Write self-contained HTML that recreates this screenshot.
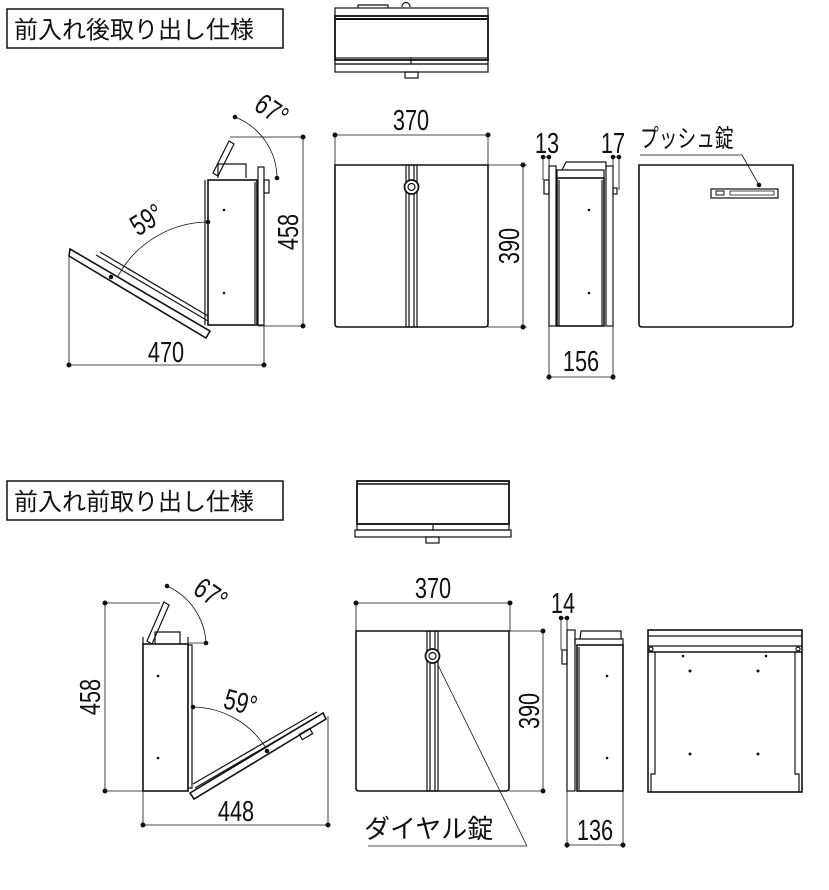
<!DOCTYPE html>
<html><head><meta charset="utf-8"><style>
html,body{margin:0;padding:0;background:#fff;}
svg{display:block;}
text{font-family:"Liberation Sans","Noto Sans CJK JP",sans-serif;fill:#111;}
.t{font-size:24px;}
.d{font-size:29px;}
</style></head><body>
<svg width="829" height="890" viewBox="0 0 829 890" xmlns="http://www.w3.org/2000/svg" stroke="#111" fill="none">
<!-- titles -->
<rect x="7" y="9" width="276" height="39" stroke-width="1.5"/>
<text x="14" y="38" class="t" stroke="none">前入れ後取り出し仕様</text>
<rect x="7" y="481" width="276" height="39" stroke-width="1.5"/>
<text x="14" y="510" class="t" stroke="none">前入れ前取り出し仕様</text>

<!-- top view 1 -->
<g stroke-width="1.2">
<rect x="335" y="8" width="153" height="8"/>
<rect x="335" y="16" width="153" height="44" stroke-width="1.8"/>
<line x1="336" y1="19" x2="487" y2="19" stroke-width="2"/>
<rect x="335" y="58" width="153" height="6"/>
<rect x="335" y="64" width="153" height="8"/>
<line x1="411" y1="58" x2="411" y2="64"/>
<rect x="405" y="72" width="13" height="6"/>
<path d="M358 8v-3h30v3M402 7c0-6 8-6 8 0"/>
</g>
<!-- front view 1 -->
<g stroke-width="1.2">
<path d="M335 165H488V324q0 3-3 3H338q-3 0-3-3Z" stroke-width="1.6"/>
<rect x="406" y="165" width="11" height="162"/>
<line x1="409" y1="165" x2="409" y2="327"/><line x1="414" y1="165" x2="414" y2="327"/>
<circle cx="411.5" cy="187" r="7" fill="#fff" stroke-width="1.8"/><circle cx="411.5" cy="187" r="3.5"/>
</g>
<g stroke-width="0.8">
<line x1="335" y1="135" x2="488" y2="135"/><line x1="335" y1="135" x2="335" y2="165"/><line x1="488" y1="135" x2="488" y2="165"/>
<line x1="488" y1="165" x2="527" y2="165"/><line x1="488" y1="327" x2="527" y2="327"/><line x1="523" y1="165" x2="523" y2="327"/>
</g>
<g fill="#111" stroke="none"><circle cx="335" cy="135" r="2.5"/><circle cx="488" cy="135" r="2.5"/><circle cx="523" cy="165" r="2.5"/><circle cx="523" cy="327" r="2.5"/></g>
<text transform="translate(411,130) scale(0.75,1)" class="d" text-anchor="middle" stroke="none">370</text>
<text transform="translate(519,246) rotate(-90) scale(0.75,1)" class="d" text-anchor="middle" stroke="none">390</text>

<!-- side view 1 right -->
<g stroke-width="1.2">
<rect x="549" y="166" width="7" height="160"/>
<rect x="557" y="178" width="47" height="148" stroke-width="1.6"/>
<rect x="606" y="166" width="7" height="160"/>
<path d="M557 178v-8h47v8M562 170l4-8h40v8"/>
<rect x="544" y="180" width="5" height="14"/><rect x="613" y="188" width="4" height="6"/>
<line x1="559" y1="180" x2="559" y2="326"/><line x1="602" y1="180" x2="602" y2="326"/>
</g>
<g stroke-width="0.8">
<line x1="543" y1="157" x2="549" y2="157"/><line x1="543" y1="157" x2="543" y2="180"/><line x1="549" y1="157" x2="549" y2="380"/>
<line x1="613" y1="157" x2="619" y2="157"/><line x1="613" y1="157" x2="613" y2="380"/><line x1="619" y1="157" x2="619" y2="190"/>
<line x1="549" y1="377" x2="613" y2="377"/>
</g>
<g fill="#111" stroke="none"><circle cx="543" cy="157" r="2.3"/><circle cx="549" cy="157" r="2.3"/><circle cx="613" cy="157" r="2.3"/><circle cx="619" cy="157" r="2.3"/><circle cx="549" cy="377" r="2.5"/><circle cx="613" cy="377" r="2.5"/>
<circle cx="589" cy="210" r="1.3"/><circle cx="589" cy="293" r="1.3"/></g>
<text transform="translate(547,153) scale(0.75,1)" class="d" text-anchor="middle" stroke="none">13</text>
<text transform="translate(613,153) scale(0.75,1)" class="d" text-anchor="middle" stroke="none">17</text>
<text transform="translate(581,371) scale(0.75,1)" class="d" text-anchor="middle" stroke="none">156</text>

<!-- rear view 1 -->
<path d="M639 165H793V324q0 3-3 3H642q-3 0-3-3Z" stroke-width="1.6"/>
<rect x="711" y="189" width="67" height="9" stroke-width="1.2"/>
<rect x="716" y="191" width="8" height="4" stroke-width="1"/>
<path d="M730 191h44v4h-44z" stroke-width="0.8"/>
<path d="M640 155H742L759 185" stroke-width="0.8"/>
<circle cx="759" cy="185" r="2.3" fill="#111" stroke="none"/>
<text transform="translate(640,147) scale(0.75,1)" stroke="none" style="font-size:25px">プッシュ錠</text>

<!-- side view 1 (open) -->
<g stroke-width="1.2">
<rect x="208" y="180" width="49" height="145" stroke-width="1.6"/>
<rect x="258" y="167" width="6" height="158"/>
<line x1="255" y1="182" x2="255" y2="324"/>
<rect x="264" y="180" width="5" height="13"/>
<path d="M218 178v-14h28v14"/>
<path d="M213 173l16-32l5 3l-16 32z"/>
<path d="M70 249l140 82l-4 7l-137-82z" stroke-width="1.6"/>
<path d="M96 255l112 66"/><path d="M100 252l108 64"/>
<line x1="205" y1="180" x2="205" y2="325"/>
</g>
<g stroke-width="0.8">
<line x1="230" y1="137" x2="303" y2="137"/><line x1="258" y1="326" x2="303" y2="326"/><line x1="303" y1="137" x2="303" y2="326"/>
<line x1="69" y1="255" x2="69" y2="365"/><line x1="264" y1="326" x2="264" y2="365"/><line x1="69" y1="365" x2="264" y2="365"/>
<path d="M208 222A104 104 0 0 0 118 276"/>
<path d="M235 117A66 66 0 0 1 277 178"/>
</g>
<g fill="#111" stroke="none"><circle cx="303" cy="137" r="2.5"/><circle cx="303" cy="326" r="2.5"/><circle cx="69" cy="365" r="2.5"/><circle cx="264" cy="365" r="2.5"/>
<circle cx="208" cy="222" r="2.3"/><circle cx="111" cy="277" r="2.3"/><circle cx="235" cy="117" r="2.3"/><circle cx="277" cy="178" r="2.3"/>
<circle cx="224" cy="210" r="1.3"/><circle cx="224" cy="293" r="1.3"/></g>
<text transform="translate(166,362) scale(0.75,1)" class="d" text-anchor="middle" stroke="none">470</text>
<text transform="translate(298,232) rotate(-90) scale(0.75,1)" class="d" text-anchor="middle" stroke="none">458</text>
<text transform="translate(152,228) rotate(-32) scale(0.75,1)" class="d" text-anchor="middle" stroke="none">59°</text>
<text transform="translate(266,118) rotate(35) scale(0.75,1)" class="d" text-anchor="middle" stroke="none">67°</text>

<!-- top view 2 -->
<g stroke-width="1.2">
<rect x="357" y="481" width="152" height="43" stroke-width="1.8"/>
<line x1="358" y1="484" x2="508" y2="484" stroke-width="1.5"/>
<rect x="357" y="524" width="152" height="6"/>
<rect x="355" y="530" width="156" height="7"/>
<line x1="433" y1="524" x2="433" y2="530"/>
<rect x="426" y="537" width="13" height="6"/>
</g>

<!-- side view 2 (open) -->
<g stroke-width="1.2">
<rect x="143" y="644" width="45" height="147" stroke-width="1.6"/>
<rect x="188" y="645" width="4" height="143"/>
<path d="M143 644v-7M188 644v-7"/>
<path d="M155 644v-12h25v12"/>
<path d="M147 641l17-39l5 3l-17 39z"/>
<path d="M190 793l133-80l3 6l-132 80z" stroke-width="1.6"/>
<path d="M193 784l124-72"/><path d="M195 788l125-73"/>
<rect x="300" y="731" width="12" height="6" transform="rotate(-30 306 734)"/>
</g>
<g stroke-width="0.8">
<line x1="105" y1="603" x2="160" y2="603"/><line x1="105" y1="791" x2="143" y2="791"/><line x1="105" y1="603" x2="105" y2="791"/>
<line x1="143" y1="791" x2="143" y2="825"/><line x1="328" y1="716" x2="328" y2="825"/><line x1="143" y1="825" x2="328" y2="825"/>
<path d="M193 707A88 88 0 0 1 266 748"/>
<path d="M167 586A66 66 0 0 1 206 643"/>
<line x1="188" y1="643" x2="206" y2="643"/>
</g>
<g fill="#111" stroke="none"><circle cx="105" cy="603" r="2.5"/><circle cx="105" cy="791" r="2.5"/><circle cx="143" cy="825" r="2.5"/><circle cx="328" cy="825" r="2.5"/>
<circle cx="193" cy="707" r="2.3"/><circle cx="267" cy="751" r="2.3"/><circle cx="167" cy="586" r="2.3"/><circle cx="206" cy="643" r="2.3"/>
<circle cx="158" cy="676" r="1.3"/><circle cx="158" cy="758" r="1.3"/></g>
<text transform="translate(236,821) scale(0.75,1)" class="d" text-anchor="middle" stroke="none">448</text>
<text transform="translate(100,697) rotate(-90) scale(0.75,1)" class="d" text-anchor="middle" stroke="none">458</text>
<text transform="translate(238,712) rotate(15) scale(0.75,1)" class="d" text-anchor="middle" stroke="none">59°</text>
<text transform="translate(205,602) rotate(35) scale(0.75,1)" class="d" text-anchor="middle" stroke="none">67°</text>

<!-- front view 2 -->
<g stroke-width="1.2">
<path d="M356 631H509V788q0 3-3 3H359q-3 0-3-3Z" stroke-width="1.6"/>
<rect x="427" y="631" width="11" height="160"/>
<line x1="430" y1="631" x2="430" y2="791"/><line x1="435" y1="631" x2="435" y2="791"/>
<circle cx="432.5" cy="656" r="7" fill="#fff" stroke-width="1.8"/><circle cx="432.5" cy="656" r="3.5"/>
</g>
<g stroke-width="0.8">
<line x1="356" y1="603" x2="510" y2="603"/><line x1="356" y1="603" x2="356" y2="631"/><line x1="510" y1="603" x2="510" y2="631"/>
<line x1="509" y1="631" x2="545" y2="631"/><line x1="509" y1="791" x2="545" y2="791"/><line x1="543" y1="631" x2="543" y2="791"/>
<path d="M438 665L527 846"/><line x1="368" y1="846" x2="527" y2="846"/>
</g>
<g fill="#111" stroke="none"><circle cx="356" cy="603" r="2.5"/><circle cx="510" cy="603" r="2.5"/><circle cx="543" cy="631" r="2.5"/><circle cx="543" cy="791" r="2.5"/></g>
<text transform="translate(433,598) scale(0.75,1)" class="d" text-anchor="middle" stroke="none">370</text>
<text transform="translate(539,711) rotate(-90) scale(0.75,1)" class="d" text-anchor="middle" stroke="none">390</text>
<text x="364" y="838" stroke="none" style="font-size:26px">ダイヤル錠</text>

<!-- side view 2 right -->
<g stroke-width="1.2">
<rect x="567" y="630" width="8" height="161"/>
<rect x="577" y="645" width="46" height="146" stroke-width="1.6"/>
<path d="M575 645v-6h48v6M580 639l1-8h40v8"/>
<rect x="562" y="650" width="5" height="14"/>
<line x1="579" y1="647" x2="579" y2="790"/>
</g>
<g stroke-width="0.8">
<line x1="561" y1="618" x2="567" y2="618"/><line x1="561" y1="618" x2="561" y2="650"/><line x1="567" y1="618" x2="567" y2="848"/>
<line x1="623" y1="791" x2="623" y2="848"/><line x1="567" y1="845" x2="623" y2="845"/>
</g>
<g fill="#111" stroke="none"><circle cx="561" cy="618" r="2.3"/><circle cx="567" cy="618" r="2.3"/><circle cx="567" cy="845" r="2.5"/><circle cx="623" cy="845" r="2.5"/>
<circle cx="607" cy="676" r="1.3"/><circle cx="607" cy="758" r="1.3"/></g>
<text transform="translate(563,613) scale(0.75,1)" class="d" text-anchor="middle" stroke="none">14</text>
<text transform="translate(595,840) scale(0.75,1)" class="d" text-anchor="middle" stroke="none">136</text>

<!-- rear view 2 -->
<g stroke-width="1.2">
<rect x="648" y="630" width="154" height="162" stroke-width="1.6"/>
<line x1="648" y1="636" x2="802" y2="636"/>
<line x1="648" y1="646" x2="802" y2="646"/>
<line x1="648" y1="652" x2="802" y2="652" stroke-width="1.6"/>
<path d="M655 652V774h-4V792M795 652V774h4V792"/>
<circle cx="651" cy="649" r="2"/><circle cx="798" cy="649" r="2"/>
</g>
<g fill="#111" stroke="none"><circle cx="683" cy="656" r="1.3"/><circle cx="766" cy="656" r="1.3"/><circle cx="690" cy="671" r="1.5"/><circle cx="758" cy="671" r="1.5"/><circle cx="690" cy="754" r="1.5"/><circle cx="758" cy="754" r="1.5"/></g>
</svg>
</body></html>
